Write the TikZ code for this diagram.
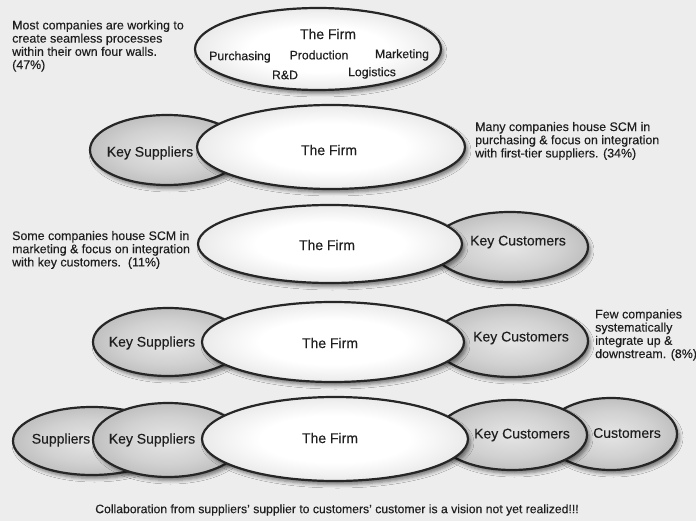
\documentclass[tikz,border=0pt]{standalone}
\usepackage{fontspec}
\setmainfont{Liberation Sans}[FakeBold=0.25]
\usetikzlibrary{shapes.geometric,shadows.blur}

% soft radial fills: near-white core for the firm, grey body for partners
\pgfdeclareradialshading{firmshade}{\pgfpoint{0bp}{0bp}}{color(0bp)=(white); color(14bp)=(white); color(30bp)=(black!12); color(42bp)=(black!26); color(50bp)=(black!45)}
\pgfdeclareradialshading{partshade}{\pgfpoint{0bp}{0bp}}{color(0bp)=(black!10); color(16bp)=(black!18); color(32bp)=(black!30); color(50bp)=(black!52)}

\begin{document}
\begin{tikzpicture}[x=1pt,y=-1pt,
  blob/.style={ellipse, inner sep=0pt, draw=black!85, line width=2.2pt,
    blur shadow={shadow xshift=2.5pt, shadow yshift=-3.5pt, shadow blur radius=3.5pt, shadow opacity=50}},
  firm/.style={blob, shade, shading=firmshade},
  partner/.style={blob, shade, shading=partshade},
  lbl/.style={text=black!88, inner sep=0pt, font=\fontsize{14}{16}\selectfont},
  sublbl/.style={text=black!88, inner sep=0pt, font=\fontsize{12.3}{14}\selectfont},
  note/.style={text=black!88, inner sep=0pt, anchor=west, align=left,
    font=\fontsize{12.4}{13.2}\selectfont}]

\fill[black!7] (0,0) rectangle (696,521);
\useasboundingbox (0,0) rectangle (696,521);

% ---- the firm on its own
\node[firm, minimum width=246pt, minimum height=82pt] (f1) at (318,49) {};
\node[lbl] (f1name) at (328,34) {The Firm};
\node[sublbl] (pur) at (240,57) {Purchasing};
\node[sublbl] (pro) at (319,55) {Production};
\node[sublbl] (mkt) at (402,55) {Marketing};
\node[sublbl] (rnd) at (285,75) {R\&D};
\node[sublbl] (log) at (372,73) {Logistics};
\node[note] (n1) at (12,46) {Most companies are working to\\create seamless processes\\within their own four walls.\\(47\%)};

% ---- firm with key suppliers
\node[partner, minimum width=154pt, minimum height=70pt] (ks2) at (167,150) {};
\node[firm, minimum width=268pt, minimum height=84pt] (f2) at (331,147) {};
\node[lbl] (ks2t) at (150,153) {Key Suppliers};
\node[lbl] (f2t) at (329,150) {The Firm};
\node[note] (n2) at (475,141) {Many companies house SCM in\\purchasing \& focus on integration\\with first-tier suppliers. (34\%)};

% ---- firm with key customers
\node[partner, minimum width=156pt, minimum height=70pt] (kc3) at (510,247) {};
\node[firm, minimum width=264pt, minimum height=78pt] (f3) at (330,244) {};
\node[lbl] (kc3t) at (518,242) {Key Customers};
\node[lbl] (f3t) at (327,245) {The Firm};
\node[note] (n3) at (12,250) {Some companies house SCM in\\marketing \& focus on integration\\with key customers.\ \ (11\%)};

% ---- firm with key suppliers and key customers
\node[partner, minimum width=150pt, minimum height=68pt] (ks4) at (168,342) {};
\node[partner, minimum width=154pt, minimum height=72pt] (kc4) at (511,341) {};
\node[firm, minimum width=262pt, minimum height=80pt] (f4) at (333,342) {};
\node[lbl] (ks4t) at (152,343) {Key Suppliers};
\node[lbl] (f4t) at (330,343) {The Firm};
\node[lbl] (kc4t) at (521,338) {Key Customers};
\node[note] (n4) at (595,335) {Few companies\\systematically\\integrate up \&\\downstream. (8\%)};

% ---- the full chain
\node[partner, minimum width=158pt, minimum height=68pt] (s5) at (92,441) {};
\node[partner, minimum width=150pt, minimum height=74pt] (ks5) at (168,440) {};
\node[partner, minimum width=132pt, minimum height=72pt] (cu5) at (611,434) {};
\node[partner, minimum width=150pt, minimum height=70pt] (kc5) at (512,435) {};
\node[firm, minimum width=266pt, minimum height=84pt] (f5) at (335,439) {};
\node[lbl] (s5t) at (61,440) {Suppliers};
\node[lbl] (ks5t) at (152,440) {Key Suppliers};
\node[lbl] (f5t) at (330,438) {The Firm};
\node[lbl] (kc5t) at (522,435) {Key Customers};
\node[lbl] (cu5t) at (627,433) {Customers};

\node[text=black!88, inner sep=0pt, font=\fontsize{12.2}{14}\selectfont] (cap) at (337,510)
  {Collaboration from suppliers' supplier to customers' customer is a vision not yet realized!!!};
\end{tikzpicture}
\end{document}
